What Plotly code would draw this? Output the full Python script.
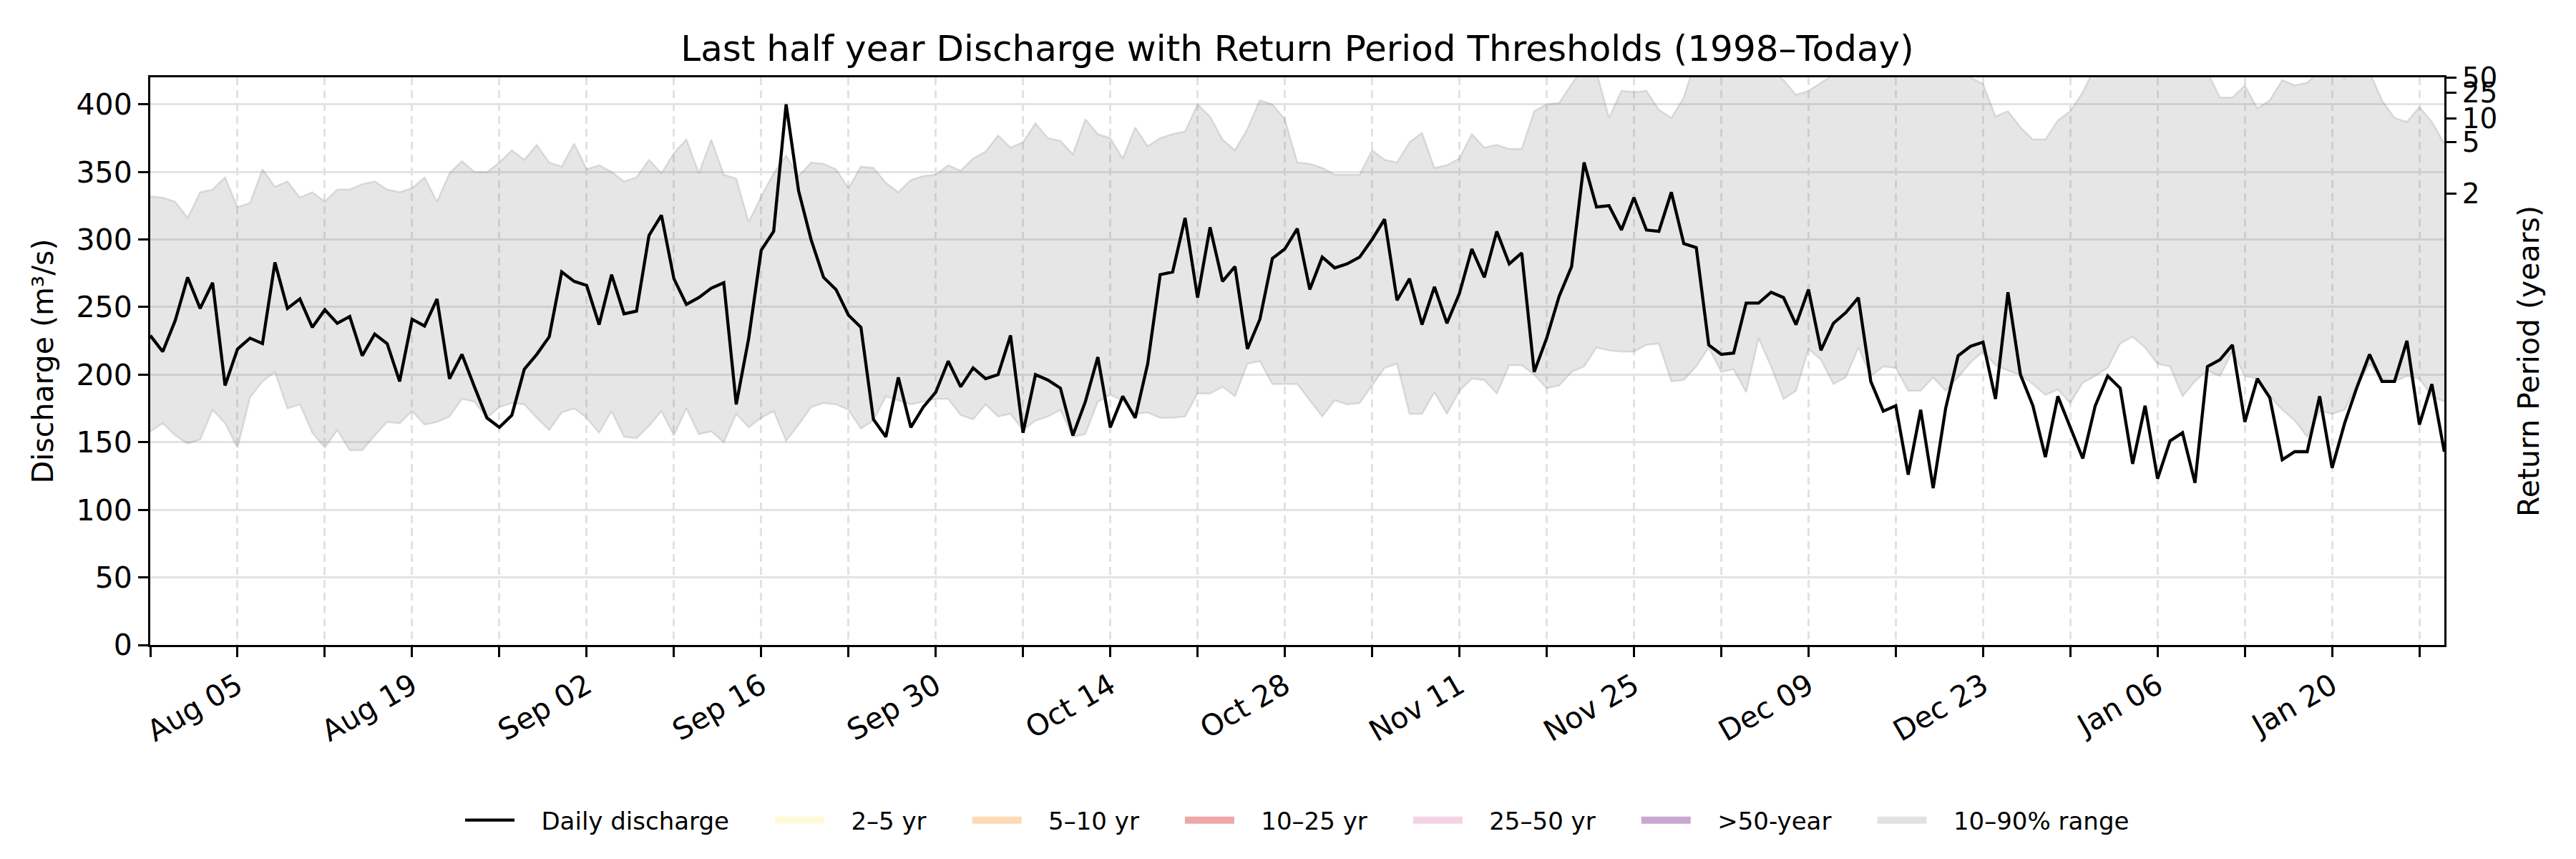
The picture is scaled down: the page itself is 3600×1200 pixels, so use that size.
import pandas as pd
import plotly.graph_objects as go

# ---------------- data ----------------
start_date = "2024-07-29"
n_days = 185

discharge = [
    229, 217, 240, 272, 249, 268, 192, 219, 227, 223,
    283, 249, 256, 235, 248, 238, 243, 214, 230, 223,
    195, 241, 236, 256, 197, 215, 191, 168, 161, 170,
    204, 215, 228, 276, 269, 266, 237, 274, 245, 247,
    303, 318, 271, 252, 257, 264, 268, 178, 227, 292,
    306, 400, 336, 300, 272, 263, 244, 235, 167, 154,
    198, 161, 176, 187, 210, 191, 205, 197, 200, 229,
    157, 200, 196, 190, 155, 180, 213, 161, 184, 168,
    208, 274, 276, 316, 257, 309, 269, 280, 219, 241,
    286, 293, 308, 263, 287, 279, 282, 287, 300, 315,
    255, 271, 237, 265, 238, 260, 293, 272, 306, 282,
    290, 202, 227, 258, 280, 357, 324, 325, 307, 331,
    307, 306, 335, 297, 294, 222, 215, 216, 253, 253,
    261, 257, 237, 263, 218, 238, 246, 257, 195, 173,
    177, 126, 174, 116, 175, 214, 221, 224, 182, 261,
    200, 177, 139, 184, 161, 138, 177, 199, 190, 134,
    177, 123, 151, 157, 120, 206, 211, 222, 165, 197,
    183, 137, 143, 143, 184, 131, 164, 191, 215, 195,
    195, 225, 163, 193, 143,
]

p90 = [
    332, 331, 328, 316, 335, 337, 346, 324, 327, 352,
    339, 343, 331, 335, 328, 337, 337, 341, 343, 337,
    335, 338, 346, 328, 349, 358, 350, 350, 357, 366,
    359, 370, 357, 354, 371, 352, 355, 350, 343, 346,
    359, 349, 364, 374, 349, 374, 348, 345, 313, 332,
    349, 362, 347, 357, 356, 352, 338, 354, 353, 342,
    335, 344, 347, 348, 355, 351, 360, 365, 377, 368,
    372, 386, 375, 373, 363, 389, 378, 375, 360, 383,
    369, 375, 378, 380, 400, 391, 374, 366, 382, 403,
    400, 389, 357, 356, 353, 348, 348, 348, 366, 359,
    357, 372, 379, 353, 355, 360, 378, 368, 370, 367,
    367, 395, 400, 401, 415, 428, 424, 390, 410, 409,
    410, 396, 390, 405, 435, 440, 445, 438, 442, 436,
    425, 418, 407, 410, 416, 422, 432, 440, 445, 438,
    430, 436, 441, 434, 428, 426, 420, 415, 391, 395,
    383, 374, 374, 388, 395, 409, 428, 438, 444, 440,
    432, 437, 445, 436, 430, 424, 405, 405, 414, 397,
    403, 418, 414, 416, 425, 427, 419, 426, 424, 403,
    390, 387, 398, 387, 371,
]

p10 = [
    158, 164, 155, 149, 152, 174, 164, 146, 183, 195,
    202, 175, 178, 157, 146, 159, 144, 144, 155, 165,
    164, 173, 163, 165, 169, 182, 180, 168, 176, 179,
    178, 168, 159, 172, 175, 168, 157, 173, 154, 153,
    162, 173, 155, 175, 156, 158, 150, 171, 161, 168,
    173, 151, 163, 176, 179, 178, 174, 160, 166, 184,
    181, 178, 180, 182, 182, 170, 167, 178, 169, 171,
    159, 166, 169, 174, 154, 156, 180, 185, 181, 171,
    172, 168, 168, 169, 186, 186, 191, 184, 208, 210,
    193, 193, 193, 181, 169, 181, 178, 179, 192, 205,
    208, 171, 171, 187, 171, 188, 197, 196, 186, 207,
    207, 200, 190, 192, 202, 206, 220, 218, 217, 217,
    222, 223, 195, 196, 206, 220, 202, 204, 187, 227,
    206, 182, 188, 219, 211, 193, 198, 220, 199, 206,
    205, 188, 188, 198, 188, 198, 209, 217, 207, 203,
    200, 193, 185, 189, 179, 194, 199, 205, 223, 228,
    220, 208, 206, 184, 195, 203, 199, 217, 199, 197,
    184, 174, 166, 154, 173, 171, 174, 192, 208, 197,
    195, 199, 197, 184, 180,
]

rp_years = ["2", "5", "10", "25", "50"]
rp_values = [334, 372, 389.5, 408.5, 420]

band_names = ["2–5 yr", "5–10 yr", "10–25 yr", "25–50 yr", ">50-year"]
band_colors = ["#fffbd8", "#fdd9b6", "#eea7a7", "#f3d3e3", "#c9a7cf"]
range_name = "10–90% range"
line_name = "Daily discharge"

title_text = "Last half year Discharge with Return Period Thresholds (1998–Today)"

assert len(discharge) == n_days and len(p90) == n_days and len(p10) == n_days

dates = pd.date_range(start_date, periods=n_days, freq="D")
week_ticks = pd.date_range(start_date, dates[-1], freq="7D")
tick_text = [d.strftime("%b %d") if i % 2 == 1 else "" for i, d in enumerate(week_ticks)]

FONT = "DejaVu Sans"
BAND_FILL = "rgba(128,128,128,0.2)"
BAND_EDGE = "rgba(128,128,128,0.22)"
NB = "\u00a0"


def legend_label(text, last=False):
    # spacing between legend symbol / text / next entry
    return NB * 3 + text + ("" if last else NB * 5)


fig = go.Figure()

# 10-90% band
fig.add_trace(go.Scatter(x=dates, y=p10, mode="lines", line=dict(color=BAND_EDGE, width=2.5),
                         showlegend=False, hoverinfo="skip"))
fig.add_trace(go.Scatter(x=dates, y=p90, mode="lines", line=dict(color=BAND_EDGE, width=2.5),
                         fill="tonexty", fillcolor=BAND_FILL, showlegend=False, hoverinfo="skip"))

# daily discharge
fig.add_trace(go.Scatter(x=dates, y=discharge, mode="lines", name=legend_label(line_name),
                         line=dict(color="black", width=4.3), legendrank=1))

# legend-only return-period bands
for i, (nm, c) in enumerate(zip(band_names, band_colors)):
    fig.add_trace(go.Scatter(x=[None], y=[None], mode="lines", name=legend_label(nm),
                             line=dict(color=c, width=10), legendrank=2 + i))

fig.add_trace(go.Scatter(x=[None], y=[None], mode="lines", name=legend_label(range_name, last=True),
                         line=dict(color="#e2e2e2", width=10), legendrank=10))

# invisible trace for right axis
fig.add_trace(go.Scatter(x=[dates[0]], y=[None], yaxis="y2", showlegend=False, hoverinfo="skip"))

W, H = 3600, 1200
fig.update_layout(
    width=W, height=H,
    margin=dict(l=210, r=184, t=108, b=299, pad=0),
    paper_bgcolor="white", plot_bgcolor="white",
    font=dict(family=FONT, size=41, color="black"),
    title=dict(text=title_text, x=0.5, xref="paper", xanchor="center",
               y=1 - 67 / H, yref="container", yanchor="middle",
               font=dict(family=FONT, size=50, color="black")),
    xaxis=dict(type="date", range=[dates[0], dates[-1]],
               tickmode="array", tickvals=week_ticks, ticktext=tick_text, tickangle=-30,
               ticks="outside", ticklen=14, tickwidth=3, tickcolor="black",
               showline=True, linecolor="black", linewidth=3, mirror=True,
               showgrid=True, gridcolor="#e2e2e2", gridwidth=2.5, griddash="11px,7px",
               zeroline=False, tickfont=dict(size=41)),
    yaxis=dict(range=[0, 420], tickmode="array", tickvals=list(range(0, 401, 50)),
               ticks="outside", ticklen=14, tickwidth=3, tickcolor="black",
               showline=True, linecolor="black", linewidth=3, mirror=True,
               showgrid=True, gridcolor="#e3e3e3", gridwidth=3, zeroline=False,
               tickfont=dict(size=41),
               title=dict(text="Discharge (m³/s)", standoff=20, font=dict(size=41))),
    yaxis2=dict(overlaying="y", side="right", range=[0, 420], tickmode="array",
                tickvals=rp_values, ticktext=rp_years,
                ticks="outside", ticklen=14, tickwidth=3, tickcolor="black",
                showline=True, linecolor="black", linewidth=3, showgrid=False, zeroline=False,
                tickfont=dict(size=39),
                title=dict(text="Return Period (years)", standoff=30, font=dict(size=41))),
    legend=dict(orientation="h", x=0.5, xanchor="center", y=-0.309, yanchor="middle",
                font=dict(size=34), itemwidth=69, bgcolor="rgba(0,0,0,0)", traceorder="normal"),
    showlegend=True,
)

fig.write_html("out.html", config={"displayModeBar": False},
               post_script="document.body.style.margin='0';")
